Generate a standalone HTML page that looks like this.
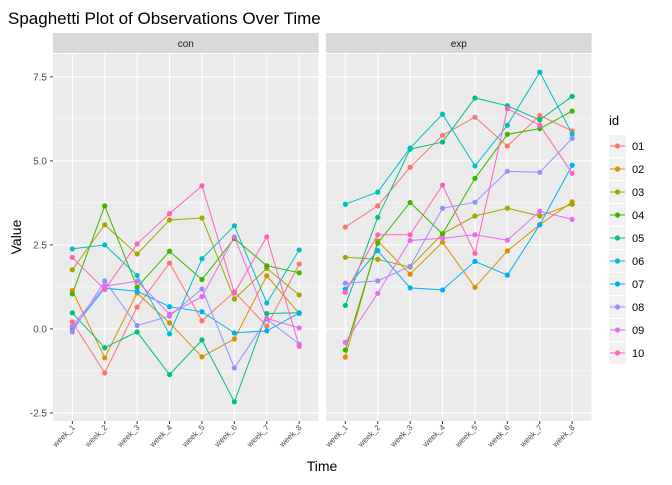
<!DOCTYPE html>
<html><head><meta charset="utf-8"><style>
body{margin:0;background:#fff;font-family:"Liberation Sans",sans-serif}
</style></head><body>
<svg id="c" width="672" height="480" xmlns="http://www.w3.org/2000/svg" font-family="Liberation Sans, sans-serif">
<text x="8" y="24" font-size="17" fill="#000">Spaghetti Plot of Observations Over Time</text>
<text x="322" y="471" font-size="14" text-anchor="middle" fill="#000">Time</text>
<text transform="translate(21,237) rotate(-90)" font-size="14" text-anchor="middle" fill="#000">Value</text>
<g id="g"></g>
</svg>
<script>
const weeks=["week_1","week_2","week_3","week_4","week_5","week_6","week_7","week_8"];
const ids=["01","02","03","04","05","06","07","08","09","10"];
const colors=["#F8766D","#D89000","#A3A500","#39B600","#00BF7D","#00BFC4","#00B0F6","#9590FF","#E76BF3","#FF62BC"];
const yTicks=[-2.5,0,2.5,5,7.5];
const yTickLabels=["-2.5","0.0","2.5","5.0","7.5"];
const groups=["con","exp"];
const con01=[0.21,-1.31,0.65,1.96,0.24,1.1,0.08,1.93];
const con02=[1.14,-0.86,1.07,0.18,-0.83,-0.3,1.58,0.46];
const con03=[1.76,3.1,2.23,3.24,3.3,0.89,1.8,1.01];
const con04=[1.04,3.66,1.24,2.31,1.47,2.69,1.88,1.67];
const con05=[0.48,-0.56,-0.09,-1.36,-0.33,-2.17,0.46,0.48];
const con06=[2.38,2.5,1.59,-0.15,2.09,3.07,0.77,2.35];
const con07=[0,1.21,1.12,0.66,0.51,-0.12,-0.06,0.47];
const con08=[-0.09,1.43,0.1,0.38,1.19,-1.16,0.29,-0.45];
const con09=[0.08,1.27,1.42,0.44,0.96,2.74,0.31,0.03];
const con10=[2.13,1.17,2.53,3.43,4.26,1.07,2.74,-0.52];
const exp01=[3.03,3.66,4.81,5.76,6.3,5.44,6.35,5.89];
const exp02=[-0.84,2.62,1.63,2.58,1.24,2.32,3.1,3.78];
const exp03=[2.13,2.07,1.84,2.83,3.36,3.59,3.36,3.71];
const exp04=[-0.63,2.55,3.76,2.83,4.48,5.79,5.96,6.48];
const exp05=[0.7,3.32,5.35,5.56,6.87,6.64,6.22,6.92];
const exp06=[3.71,4.07,5.38,6.39,4.85,6.06,7.64,5.8];
const exp07=[1.18,2.33,1.22,1.16,2.01,1.6,3.1,4.87];
const exp08=[1.36,1.43,1.86,3.59,3.77,4.69,4.66,5.67];
const exp09=[-0.4,1.06,2.63,2.7,2.8,2.64,3.5,3.26];
const exp10=[1.09,2.8,2.8,4.28,2.25,6.55,6.06,4.63];
const conData=[con01,con02,con03,con04,con05,con06,con07,con08,con09,con10];
const expData=[exp01,exp02,exp03,exp04,exp05,exp06,exp07,exp08,exp09,exp10];

const NS="http://www.w3.org/2000/svg";
const g=document.getElementById('g');
function mk(t,a,p){const e=document.createElementNS(NS,t);for(const k in a)e.setAttribute(k,a[k]);(p||g).appendChild(e);return e;}
const yTop=54,yBot=421,yMin=-2.74,yMax=8.18;
const yS=v=>yBot-(v-yMin)/(yMax-yMin)*(yBot-yTop);
const panels=[{x0:52.9,x1:318.6},{x0:325.9,x1:591.6}];
function xS(p,i){const step=(p.x1-p.x0)/(weeks.length-1+1.2);return p.x0+step*(0.6+i);}
panels.forEach((p,pi)=>{
  const s=mk('rect',{x:p.x0,y:33,width:p.x1-p.x0,height:20,fill:'#D9D9D9'});
  
  
  const st=mk('text',{x:(p.x0+p.x1)/2,y:47,'font-size':10,'text-anchor':'middle',fill:'#1A1A1A'});
  st.textContent=groups[pi];
  
  
  const bg=mk('rect',{x:p.x0,y:yTop,width:p.x1-p.x0,height:yBot-yTop,fill:'#EBEBEB'});
  
  
  for(let k=0;k<yTicks.length-1;k++){const v=(yTicks[k]+yTicks[k+1])/2;
    mk('line',{x1:p.x0,x2:p.x1,y1:yS(v),y2:yS(v),stroke:'#fff','stroke-width':0.5});}
  yTicks.forEach(v=>mk('line',{x1:p.x0,x2:p.x1,y1:yS(v),y2:yS(v),stroke:'#fff','stroke-width':1.1}));
  weeks.forEach((w,i)=>{const x=xS(p,i);
    mk('line',{x1:x,x2:x,y1:yTop,y2:yBot,stroke:'#fff','stroke-width':1.1});
    mk('line',{x1:x,x2:x,y1:yBot,y2:yBot+3,stroke:'#333','stroke-width':1});
    const t=mk('text',{transform:`translate(${x+3},${yBot+7}) rotate(-45)`,'font-size':8,'text-anchor':'end',fill:'#4D4D4D'});
    t.textContent=w;
    
    
  });
  const data=pi===0?conData:expData;
  data.forEach((ser,si)=>{
    const pts=ser.map((v,i)=>xS(p,i).toFixed(1)+','+yS(v).toFixed(1)).join(' ');
    const pl=mk('polyline',{points:pts,fill:'none',stroke:colors[si],'stroke-width':1});
    
    
  });
  data.forEach((ser,si)=>{
    ser.forEach((v,i)=>{
      const c=mk('circle',{cx:xS(p,i),cy:yS(v),r:2.6,fill:colors[si]});
      
      
    });
  });
});
yTicks.forEach((v,i)=>{
  mk('line',{x1:50,x2:52.9,y1:yS(v),y2:yS(v),stroke:'#333','stroke-width':1});
  const t=mk('text',{x:47,y:yS(v)+3.5,'font-size':10,'text-anchor':'end',fill:'#4D4D4D'});
  t.textContent=yTickLabels[i];
  
  
});
const lt=mk('text',{x:609,y:125,'font-size':13,fill:'#000'});
lt.textContent='id';


ids.forEach((id,i)=>{
  const y=146+i*23;
  const lg=mk('g',{});
  
  
  mk('rect',{x:609,y:y-11,width:17,height:22,fill:'#F2F2F2'},lg);
  mk('line',{x1:610,x2:625,y1:y,y2:y,stroke:colors[i],'stroke-width':1},lg);
  mk('circle',{cx:617.5,cy:y,r:2.6,fill:colors[i]},lg);
  const t=mk('text',{x:632,y:y+4,'font-size':11,fill:'#000'},lg);
  t.textContent=id;
});
</script>
</body></html>
